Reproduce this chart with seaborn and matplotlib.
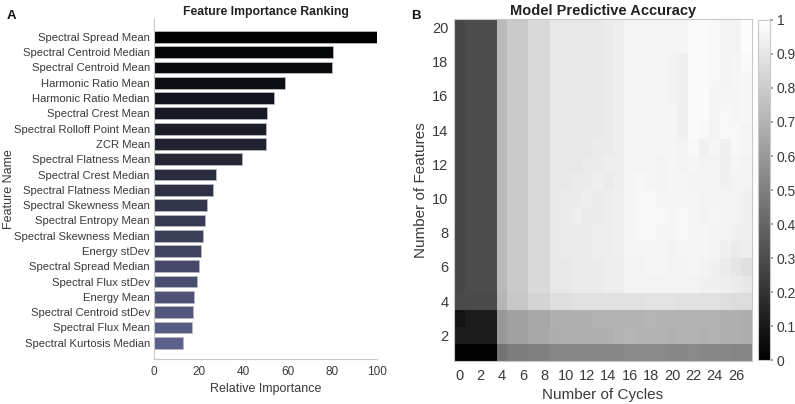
import numpy as np
import pandas as pd
import matplotlib
matplotlib.use("Agg")
import matplotlib.pyplot as plt
import seaborn as sns

# ---------------- data ----------------
features = [
    "Spectral Spread Mean", "Spectral Centroid Median", "Spectral Centroid Mean",
    "Harmonic Ratio Mean", "Harmonic Ratio Median", "Spectral Crest Mean",
    "Spectral Rolloff Point Mean", "ZCR Mean", "Spectral Flatness Mean",
    "Spectral Crest Median", "Spectral Flatness Median", "Spectral Skewness Mean",
    "Spectral Entropy Mean", "Spectral Skewness Median", "Energy stDev",
    "Spectral Spread Median", "Spectral Flux stDev", "Energy Mean",
    "Spectral Centroid stDev", "Spectral Flux Mean", "Spectral Kurtosis Median",
]
importance = [100, 80.4, 79.7, 58.7, 53.8, 50.5, 50.4, 50.3, 39.6, 27.8, 26.6,
              23.9, 23.0, 22.0, 21.1, 20.2, 19.3, 18.1, 17.6, 16.9, 12.9]
xticks_a = [0, 20, 40, 60, 80, 100]

cycles = list(range(28))
n_features = list(range(20, 0, -1))  # top row first
acc_rows = [
    [0.28,0.30,0.30,0.30,0.73,0.79,0.79,0.85,0.85,0.91,0.91,0.91,0.91,0.91,0.92,0.93,0.96,0.96,0.96,0.96,0.96,0.96,0.98,0.98,0.97,0.95,0.95,0.99],
    [0.28,0.30,0.30,0.30,0.73,0.79,0.79,0.85,0.85,0.91,0.91,0.91,0.91,0.91,0.92,0.93,0.96,0.96,0.96,0.96,0.96,0.96,0.98,0.98,0.97,0.95,0.95,0.99],
    [0.28,0.30,0.30,0.30,0.73,0.79,0.79,0.85,0.85,0.91,0.91,0.91,0.91,0.91,0.92,0.93,0.96,0.96,0.96,0.96,0.95,0.94,0.98,0.98,0.97,0.95,0.96,0.98],
    [0.28,0.30,0.30,0.30,0.73,0.79,0.79,0.85,0.85,0.91,0.91,0.91,0.91,0.91,0.92,0.93,0.96,0.96,0.96,0.96,0.95,0.94,0.98,0.98,0.97,0.95,0.96,0.97],
    [0.28,0.30,0.30,0.30,0.73,0.79,0.79,0.85,0.85,0.91,0.91,0.91,0.91,0.91,0.92,0.93,0.96,0.96,0.96,0.96,0.95,0.94,0.98,0.98,0.96,0.96,0.96,0.97],
    [0.28,0.30,0.30,0.30,0.73,0.79,0.79,0.85,0.85,0.91,0.91,0.91,0.91,0.91,0.92,0.93,0.96,0.96,0.96,0.96,0.96,0.94,0.98,0.98,0.96,0.97,0.96,0.97],
    [0.28,0.30,0.30,0.30,0.73,0.79,0.79,0.85,0.85,0.91,0.91,0.91,0.91,0.91,0.92,0.93,0.96,0.96,0.96,0.96,0.96,0.94,0.98,0.97,0.95,0.97,0.97,0.96],
    [0.28,0.30,0.30,0.30,0.73,0.79,0.79,0.85,0.85,0.91,0.91,0.91,0.91,0.92,0.92,0.93,0.96,0.96,0.96,0.96,0.96,0.95,0.97,0.94,0.96,0.94,0.97,0.96],
    [0.28,0.30,0.30,0.30,0.73,0.79,0.79,0.85,0.85,0.91,0.91,0.91,0.92,0.92,0.93,0.93,0.96,0.96,0.96,0.95,0.96,0.95,0.96,0.95,0.95,0.94,0.96,0.95],
    [0.28,0.30,0.30,0.30,0.73,0.79,0.79,0.85,0.85,0.91,0.91,0.92,0.92,0.93,0.92,0.93,0.96,0.97,0.96,0.95,0.96,0.96,0.95,0.95,0.95,0.94,0.95,0.95],
    [0.28,0.30,0.30,0.30,0.73,0.79,0.79,0.85,0.85,0.91,0.92,0.92,0.93,0.92,0.93,0.94,0.96,0.97,0.97,0.96,0.96,0.96,0.96,0.95,0.95,0.95,0.95,0.94],
    [0.28,0.30,0.30,0.30,0.73,0.79,0.79,0.85,0.85,0.91,0.92,0.93,0.92,0.92,0.93,0.94,0.96,0.97,0.97,0.97,0.96,0.97,0.96,0.95,0.96,0.95,0.95,0.94],
    [0.28,0.30,0.30,0.30,0.73,0.79,0.79,0.85,0.85,0.91,0.92,0.92,0.92,0.93,0.93,0.94,0.96,0.97,0.97,0.96,0.96,0.97,0.96,0.96,0.95,0.95,0.94,0.94],
    [0.28,0.30,0.30,0.30,0.73,0.79,0.79,0.85,0.85,0.91,0.92,0.92,0.92,0.93,0.93,0.94,0.96,0.96,0.96,0.96,0.95,0.96,0.96,0.96,0.95,0.94,0.92,0.93],
    [0.28,0.30,0.30,0.30,0.73,0.79,0.79,0.85,0.85,0.91,0.91,0.92,0.92,0.92,0.93,0.93,0.95,0.95,0.96,0.96,0.95,0.95,0.96,0.95,0.94,0.92,0.90,0.88],
    [0.28,0.30,0.30,0.30,0.73,0.79,0.79,0.85,0.85,0.91,0.91,0.92,0.92,0.92,0.93,0.93,0.95,0.95,0.95,0.95,0.95,0.95,0.95,0.94,0.94,0.93,0.92,0.91],
    [0.29,0.29,0.29,0.29,0.71,0.78,0.78,0.83,0.83,0.87,0.87,0.88,0.88,0.88,0.88,0.88,0.88,0.88,0.89,0.89,0.89,0.88,0.88,0.88,0.88,0.87,0.86,0.86],
    [0.08,0.11,0.11,0.11,0.60,0.63,0.63,0.66,0.66,0.69,0.69,0.69,0.69,0.70,0.70,0.70,0.70,0.70,0.71,0.70,0.70,0.70,0.70,0.70,0.70,0.69,0.69,0.68],
    [0.11,0.11,0.11,0.11,0.60,0.63,0.63,0.66,0.66,0.68,0.69,0.69,0.69,0.69,0.69,0.70,0.71,0.70,0.70,0.70,0.69,0.70,0.70,0.69,0.70,0.69,0.69,0.68],
    [0.01,0.01,0.01,0.01,0.45,0.49,0.49,0.50,0.50,0.53,0.53,0.53,0.53,0.53,0.53,0.53,0.54,0.54,0.54,0.54,0.53,0.53,0.54,0.53,0.53,0.53,0.52,0.52],
]
xtick_cycles = list(range(0, 28, 2))
ytick_feats = list(range(2, 21, 2))
cbar_ticks = [0, 0.1, 0.2, 0.3, 0.4, 0.5, 0.6, 0.7, 0.8, 0.9, 1]

# ---------------- style ----------------
sns.set_theme(style="white")
plt.rcParams["font.family"] = ["Liberation Sans", "DejaVu Sans"]
txt = "#3a3a3a"
spine_c = "#c8c8c8"

fig = plt.figure(figsize=(7.95, 4.04), dpi=100)
ax1 = fig.add_axes([0.1937, 0.1114, 0.2805, 0.8416])
ax2 = fig.add_axes([0.571, 0.1064, 0.3748, 0.8465])
cax = fig.add_axes([0.9535, 0.1089, 0.0151, 0.8416])

# ---------------- panel A ----------------
df_a = pd.DataFrame({"Feature": features, "Importance": importance})
pal = sns.blend_palette(["#000000", "#545a92"], n_colors=len(features))
sns.barplot(data=df_a, x="Importance", y="Feature", hue="Feature",
            palette=pal, legend=False, ax=ax1, width=0.77,
            edgecolor="#b8b8c0", linewidth=0.6)
ax1.set_xlim(0, 100)
ax1.set_ylim(len(features) - 1 + 1.06, -1.17)
ax1.set_xticks(xticks_a)
ax1.set_xticklabels([str(v) for v in xticks_a])
ax1.tick_params(axis="x", direction="in", length=3, color=spine_c,
                labelsize=8.5, labelcolor=txt, pad=5)
ax1.tick_params(axis="y", length=0, labelsize=8.1, labelcolor=txt, pad=3)
for s in ["top", "right"]:
    ax1.spines[s].set_visible(False)
for s in ["left", "bottom"]:
    ax1.spines[s].set_color(spine_c)
    ax1.spines[s].set_linewidth(0.8)
ax1.set_xlabel("Relative Importance", fontsize=9, color=txt, labelpad=4)
ax1.set_ylabel("Feature Name", fontsize=9, color=txt)
ax1.yaxis.set_label_coords(-0.625, 0.5)
ax1.set_title("Feature Importance Ranking", fontsize=8.8, fontweight="bold",
              color="#222222", pad=3, x=0.5)
fig.text(0.009, 0.975, "A", fontsize=9.5, fontweight="bold", va="top", color="#111111")

# ---------------- panel B ----------------
df_b = pd.DataFrame(acc_rows, index=n_features, columns=cycles)
sns.heatmap(df_b, cmap="gray", vmin=0, vmax=1, ax=ax2, cbar_ax=cax,
            xticklabels=False, yticklabels=False)
ax2.set_xticks([c + 0.5 for c in xtick_cycles])
ax2.set_xticklabels([str(c) for c in xtick_cycles], rotation=0)
ax2.set_yticks([n_features.index(f) + 0.5 for f in ytick_feats])
ax2.set_yticklabels([str(f) for f in ytick_feats], rotation=0)
ax2.tick_params(direction="in", length=3, color="#999999", top=True, right=True,
                bottom=True, left=True, labelsize=10.5, labelcolor=txt)
ax2.tick_params(axis="x", pad=6)
ax2.tick_params(axis="y", pad=4)
for s in ax2.spines.values():
    s.set_visible(True)
    s.set_color(spine_c)
    s.set_linewidth(0.8)
ax2.set_xlabel("Number of Cycles", fontsize=11, color=txt, labelpad=3)
ax2.set_ylabel("Number of Features", fontsize=11, color=txt, labelpad=3)
ax2.set_title("Model Predictive Accuracy", fontsize=10.5, fontweight="bold",
              color="#222222", pad=3)
fig.text(0.517, 0.975, "B", fontsize=9.5, fontweight="bold", va="top", color="#111111")

cbar = ax2.collections[0].colorbar
cbar.set_ticks(cbar_ticks)
cbar.set_ticklabels([f"{t:g}" for t in cbar_ticks])
cax.tick_params(length=2, color="#999999", labelsize=10, labelcolor=txt, pad=3)
cbar.outline.set_edgecolor(spine_c)
cbar.outline.set_linewidth(0.8)

fig.savefig("out.png", dpi=100)
